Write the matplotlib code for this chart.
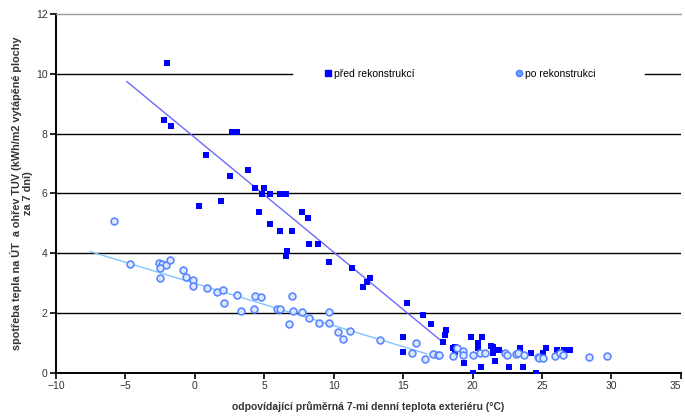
import matplotlib
matplotlib.use("Agg")
import matplotlib.pyplot as plt
from matplotlib.lines import Line2D

plt.rcParams['font.family'] = ['Liberation Sans', 'DejaVu Sans']

# --- data ---
before_x = [-2.0, -2.2, -1.7, 2.7, 3.0, 0.77, 3.8, 2.5, 4.3, 4.95, 4.8, 5.4, 6.1, 6.55,
            0.3, 1.85, 4.6, 7.7, 8.15, 5.4, 6.1, 7.0, 8.2, 8.9, 6.6, 6.55, 9.66, 11.35,
            12.6, 12.4, 12.1, 15.27, 16.4, 17.0, 18.1, 18.0, 17.9, 15.0, 15.0, 18.6,
            18.7, 18.7, 19.4, 19.9, 20.7, 20.4, 20.4, 20.5, 20.6, 20.0, 21.46, 21.9,
            21.46, 21.6, 22.3, 23.4, 23.4, 22.6, 23.6, 24.2, 24.6, 25.3, 25.05, 26.1,
            26.6, 27.0, 21.3]
before_y = [10.35, 8.45, 8.25, 8.05, 8.05, 7.3, 6.8, 6.6, 6.18, 6.18, 5.99, 5.99, 5.99, 5.99,
            5.58, 5.76, 5.38, 5.38, 5.17, 4.98, 4.75, 4.75, 4.31, 4.31, 4.09, 3.91, 3.71, 3.5,
            3.17, 3.05, 2.89, 2.35, 1.94, 1.64, 1.44, 1.27, 1.05, 1.21, 0.71, 0.83,
            0.88, 0.71, 0.34, 1.21, 1.21, 0.99, 0.84, 0.66, 0.21, 0.01, 0.88, 0.77,
            0.66, 0.41, 0.66, 0.83, 0.66, 0.21, 0.21, 0.66, 0.01, 0.83, 0.66, 0.77,
            0.77, 0.77, 0.9]

after_x = [-5.83, -4.68, -2.57, -2.4, -2.1, -1.8, -2.5, -2.5, -0.84, -0.65, -0.12, -0.12,
           0.84, 1.56, 2.04, 2.1, 3.04, 4.3, 4.73, 3.3, 4.25, 5.9, 6.15, 7.0, 7.05, 6.8,
           7.7, 8.2, 8.94, 9.66, 9.66, 10.3, 10.7, 11.2, 13.3, 15.6, 15.9, 16.6, 17.15,
           17.5, 18.6, 17.6, 18.9, 19.3, 19.3, 20.0, 20.5, 20.9, 22.3, 22.5, 23.1, 23.3,
           23.7, 24.7, 24.8, 25.05, 25.9, 26.3, 26.5, 28.4, 29.7]
after_y = [5.07, 3.64, 3.69, 3.63, 3.61, 3.78, 3.5, 3.17, 3.44, 3.22, 3.11, 2.91,
           2.83, 2.72, 2.78, 2.35, 2.61, 2.58, 2.53, 2.08, 2.13, 2.13, 2.13, 2.58, 2.08, 1.64,
           2.03, 1.83, 1.66, 2.03, 1.66, 1.38, 1.15, 1.39, 1.09, 0.68, 1.01, 0.47, 0.64,
           0.6, 0.58, 0.6, 0.82, 0.75, 0.6, 0.6, 0.66, 0.66, 0.66, 0.6, 0.64, 0.66,
           0.6, 0.54, 0.51, 0.5, 0.58, 0.66, 0.6, 0.55, 0.57]

trend_before_x = [-4.9, 17.8]
trend_before_y = [9.74, 1.05]
trend_after_x = [-7.55, 16.7]
trend_after_y = [4.06, 0.64]

xticks = [-10, -5, 0, 5, 10, 15, 20, 25, 30, 35]
yticks = [0, 2, 4, 6, 8, 10, 12]

label_before = "před rekonstrukcí"
label_after = "po rekonstrukci"
xlabel = "odpovídající průměrná 7-mi denní teplota exteriéru (°C)"
ylabel = "spotřeba tepla na ÚT  a ohřev TUV (kWh/m2 vytápěné plochy\nza 7 dní)"

# --- figure ---
fig = plt.figure(figsize=(6.85, 4.17), dpi=100)
ax = fig.add_axes([0.0818, 0.1055, 0.9122, 0.861])
ax.set_xlim(-10, 35)
ax.set_ylim(0, 12)

for g in [2, 4, 6, 8]:
    ax.axhline(g, color='black', lw=1.0, zorder=1)
ax.axhline(10, xmin=0, xmax=0.377, color='black', lw=1.0, zorder=1)
ax.axhline(10, xmin=0.942, xmax=1.0, color='black', lw=1.0, zorder=1)

ax.plot(trend_before_x, trend_before_y, color='#6a6aff', lw=1.0, zorder=2)
ax.plot(trend_after_x, trend_after_y, color='#7fc4ff', lw=1.0, zorder=2)

ax.scatter(before_x, before_y, marker='s', s=20, color='#0000ff', linewidths=0, zorder=3)
ax.scatter(after_x, after_y, marker='o', s=24, facecolor='#dde8ff', edgecolor='#5c88ff',
           linewidths=1.2, zorder=4)

ax.set_xticks(xticks)
ax.set_yticks(yticks)
ax.tick_params(axis='both', labelsize=7.5, direction='out', length=4, width=1.2,
               colors='black', pad=2)
ax.tick_params(axis='both', labelcolor='#333333')
xt = ax.get_xticklabels()
xt[-1].set_horizontalalignment('right')
xt[-1].set_x(35)
ax.spines['right'].set_visible(False)
ax.spines['top'].set_color('#999999')
ax.spines['top'].set_linewidth(1.0)
ax.spines['left'].set_linewidth(1.4)
ax.spines['bottom'].set_linewidth(1.4)

ax.set_xlabel(xlabel, fontsize=7.5, fontweight='bold', color='#333333', labelpad=7)
ax.set_ylabel(ylabel, fontsize=7.8, fontweight='bold', color='#333333', labelpad=2,
              linespacing=1.15)

handles = [Line2D([], [], marker='s', ls='none', color='#0000ff', markersize=4),
           Line2D([], [], marker='o', ls='none', markerfacecolor='#6f9bff',
                  markeredgecolor='#4f7fff', markersize=4.5)]
ax.legend(handles, [label_before, label_after], ncol=2, frameon=False,
          loc='center', bbox_to_anchor=(0.645, 0.833), fontsize=7.5,
          handletextpad=0.1, columnspacing=9.5, handlelength=1.0)

fig.savefig('out.png', dpi=100)
